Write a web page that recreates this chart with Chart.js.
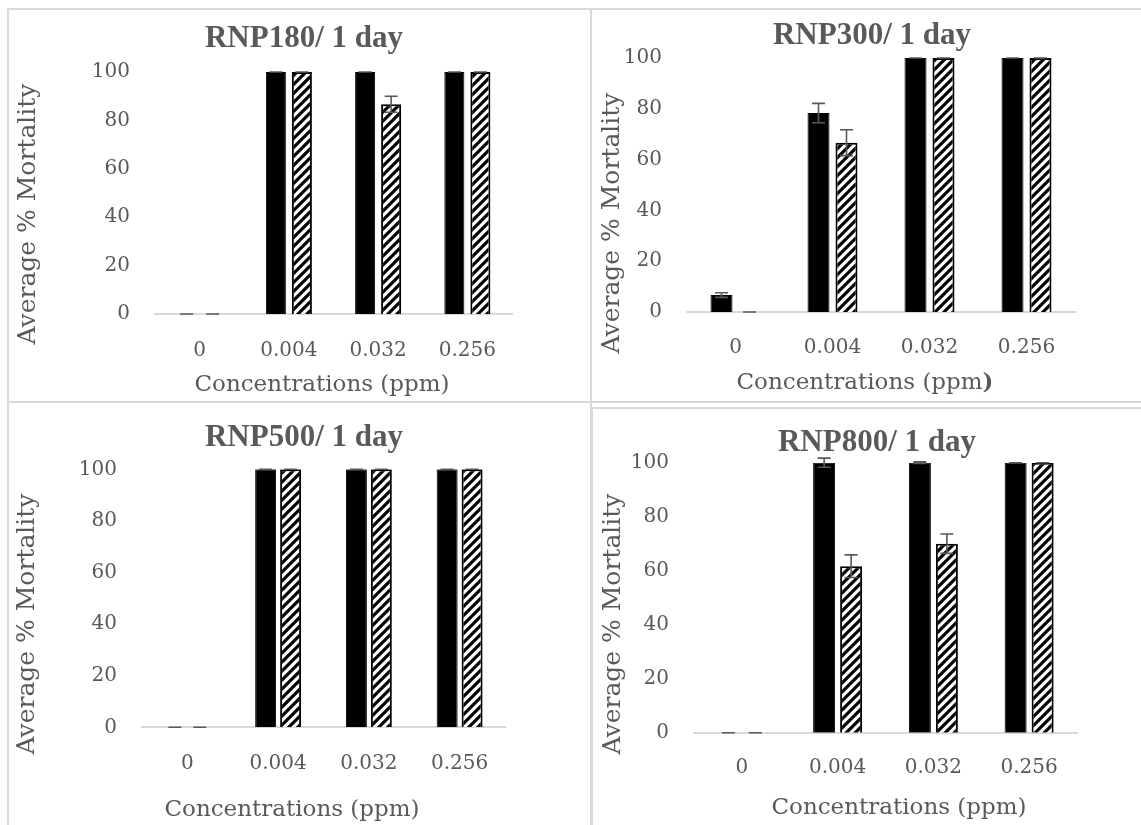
<!DOCTYPE html>
<html>
<head>
<meta charset="utf-8">
<script src="https://cdn.jsdelivr.net/npm/chart.js@4.4.0/dist/chart.umd.min.js"></script>
<style>
  html, body { margin: 0; padding: 0; background: #fff; }
  body { position: relative; width: 1141px; height: 825px; overflow: hidden; }
  canvas { position: absolute; }
  .frame { position: absolute; border: 2px solid #d9d9d9; box-sizing: border-box; pointer-events: none; }
</style>
</head>
<body>
<canvas id="c180" width="590" height="404" style="left:0;top:0"></canvas>
<canvas id="c300" width="551" height="404" style="left:590px;top:0"></canvas>
<canvas id="c500" width="590" height="421" style="left:0;top:404px"></canvas>
<canvas id="c800" width="551" height="421" style="left:590px;top:404px"></canvas>
<div class="frame" style="left:7px;top:8px;width:585px;height:395px"></div>
<div class="frame" style="left:590px;top:8px;width:600px;height:395px"></div>
<div class="frame" style="left:7px;top:401px;width:585px;height:500px"></div>
<div class="frame" style="left:591px;top:407px;width:600px;height:500px"></div>
<script>
// Concentration categories and y-axis ticks shared by all four panels
const categories = ['0', '0.004', '0.032', '0.256'];
const yTickValues = [0, 20, 40, 60, 80, 100];

// RNP180, 1 day
const rnp180Solid = [0, 100, 100, 100];
const rnp180SolidErr = [0, 0, 0, 0];
const rnp180Hatched = [0, 100, 86.67, 100];
const rnp180HatchedErr = [0, 0, 3.33, 0];

// RNP300, 1 day
const rnp300Solid = [6.67, 78.33, 100, 100];
const rnp300SolidErr = [0.9, 3.8, 0, 0];
const rnp300Hatched = [0, 66.67, 100, 100];
const rnp300HatchedErr = [0, 5.1, 0, 0];

// RNP500, 1 day
const rnp500Solid = [0, 100, 100, 100];
const rnp500SolidErr = [0, 0, 0, 0];
const rnp500Hatched = [0, 100, 100, 100];
const rnp500HatchedErr = [0, 0, 0, 0];

// RNP800, 1 day
const rnp800Solid = [0, 100, 100, 100];
const rnp800SolidErr = [0, 1.7, 0.3, 0];
const rnp800Hatched = [0, 61.67, 70, 100];
const rnp800HatchedErr = [0, 4.2, 3.6, 0];

const yTitle = 'Average % Mortality';
const TEXT = '#595959';
const FONT = '"DejaVu Serif", "Liberation Serif", serif';
const TITLE_FONT = 'bold 31px "Liberation Serif", "DejaVu Serif", serif';

// Diagonal "/" hatch tile
function makeHatch(ctx) {
  const s = 9;
  const tile = document.createElement('canvas');
  tile.width = tile.height = s;
  const g = tile.getContext('2d');
  g.fillStyle = '#fff';
  g.fillRect(0, 0, s, s);
  g.strokeStyle = '#000';
  g.lineWidth = 3.2;
  g.beginPath();
  for (let k = -1; k <= 1; k++) {
    g.moveTo(-2, s + k * s + 2);
    g.lineTo(s + 2, k * s - 2);
  }
  g.stroke();
  return ctx.createPattern(tile, 'repeat');
}

// Symmetric error bars with caps, drawn over the bars
const errorBars = {
  id: 'errorBars',
  afterDatasetsDraw(chart, args, opts) {
    const { ctx } = chart;
    const y = chart.scales.y;
    chart.data.datasets.forEach((ds, i) => {
      if (!ds.errors) return;
      chart.getDatasetMeta(i).data.forEach((bar, j) => {
        const v = ds.data[j], e = ds.errors[j];
        const x = bar.x, hi = y.getPixelForValue(v + e), lo = y.getPixelForValue(v - e);
        const h = opts.cap / 2;
        ctx.save();
        ctx.strokeStyle = opts.color;
        ctx.lineWidth = opts.width;
        ctx.beginPath();
        ctx.moveTo(x, hi); ctx.lineTo(x, lo);
        ctx.moveTo(x - h, hi); ctx.lineTo(x + h, hi);
        ctx.moveTo(x - h, lo); ctx.lineTo(x + h, lo);
        ctx.stroke();
        ctx.restore();
      });
    });
  }
};

// Chart title and axis titles placed at fixed spots in each panel
const panelText = {
  id: 'panelText',
  afterDraw(chart, args, o) {
    const ctx = chart.ctx;
    ctx.save();
    ctx.fillStyle = TEXT;
    ctx.textAlign = 'center';
    ctx.textBaseline = 'middle';
    ctx.font = TITLE_FONT;
    ctx.fillText(o.title, o.titleAt[0], o.titleAt[1]);

    ctx.save();
    ctx.translate(o.yTitleAt[0], o.yTitleAt[1]);
    ctx.rotate(-Math.PI / 2);
    ctx.font = '25px ' + FONT;
    ctx.fillText(yTitle, 0, 0);
    ctx.restore();

    const parts = o.xTitle;
    let total = 0;
    parts.forEach(p => { ctx.font = (p.bold ? 'bold ' : '') + '23px ' + FONT; p.w = ctx.measureText(p.text).width; total += p.w; });
    let x = o.xTitleAt[0] - total / 2;
    ctx.textAlign = 'left';
    parts.forEach(p => {
      ctx.font = (p.bold ? 'bold ' : '') + '23px ' + FONT;
      ctx.fillText(p.text, x, o.xTitleAt[1]);
      x += p.w;
    });
    ctx.restore();
  }
};

function makePanel(id, title, solid, solidErr, hatched, hatchedErr, lay) {
  const canvas = document.getElementById(id);
  const ctx = canvas.getContext('2d');
  const W = canvas.width, H = canvas.height;
  const a = lay.area;
  return new Chart(ctx, {
    type: 'bar',
    data: {
      labels: categories,
      datasets: [
        { label: 'Solid', data: solid, errors: solidErr, backgroundColor: '#000', borderColor: '#000', borderWidth: 1,
          categoryPercentage: lay.catPct, barPercentage: lay.barPct },
        { label: 'Hatched', data: hatched, errors: hatchedErr, backgroundColor: makeHatch(ctx), borderColor: '#000', borderWidth: 2,
          categoryPercentage: lay.catPct, barPercentage: lay.barPct }
      ]
    },
    options: {
      responsive: false,
      animation: false,
      events: [],
      layout: { autoPadding: false, padding: { left: 0, top: a.top, right: W - a.right, bottom: 0 } },
      plugins: {
        legend: { display: false },
        title: { display: false },
        tooltip: { enabled: false },
        errorBars: { color: '#595959', width: 1.6, cap: 13 },
        panelText: { title: title, titleAt: lay.titleAt, yTitleAt: lay.yTitleAt, xTitleAt: lay.xTitleAt, xTitle: lay.xTitle }
      },
      scales: {
        x: {
          grid: { display: false, drawTicks: false },
          border: { display: true, color: '#d9d9d9', width: 2 },
          ticks: { color: TEXT, font: { family: FONT, size: 20 }, padding: lay.xPad, maxRotation: 0 },
          afterFit: s => { s.height = H - a.bottom; }
        },
        y: {
          min: 0, max: 100,
          grid: { display: false, drawTicks: false },
          border: { display: false },
          ticks: { color: TEXT, font: { family: FONT, size: 20 }, padding: 25 },
          afterBuildTicks: s => { s.ticks = yTickValues.map(v => ({ value: v })); },
          afterFit: s => { s.width = a.left; }
        }
      }
    },
    plugins: [errorBars, panelText]
  });
}

const xTitlePlain = [{ text: 'Concentrations (ppm)' }];

makePanel('c180', 'RNP180/ 1 day', rnp180Solid, rnp180SolidErr, rnp180Hatched, rnp180HatchedErr, {
  area: { left: 155, right: 512, top: 72, bottom: 314 },
  catPct: 0.583, barPct: 0.77, xPad: 25,
  titleAt: [304, 39], yTitleAt: [28, 214], xTitleAt: [322, 385], xTitle: xTitlePlain
});
makePanel('c300', 'RNP300/ 1 day', rnp300Solid, rnp300SolidErr, rnp300Hatched, rnp300HatchedErr, {
  area: { left: 97, right: 485, top: 58, bottom: 312 },
  catPct: 0.577, barPct: 0.786, xPad: 24,
  titleAt: [282, 36], yTitleAt: [22, 223], xTitleAt: [275, 383],
  xTitle: [{ text: 'Concentrations (ppm' }, { text: ')', bold: true }]
});
makePanel('c500', 'RNP500/ 1 day', rnp500Solid, rnp500SolidErr, rnp500Hatched, rnp500HatchedErr, {
  area: { left: 142, right: 505, top: 65.3, bottom: 323.3 },
  catPct: 0.55, barPct: 0.84, xPad: 24,
  titleAt: [304, 34], yTitleAt: [27, 220], xTitleAt: [292, 406], xTitle: xTitlePlain
});
makePanel('c800', 'RNP800/ 1 day', rnp800Solid, rnp800SolidErr, rnp800Hatched, rnp800HatchedErr, {
  area: { left: 104, right: 487, top: 58.7, bottom: 328.7 },
  catPct: 0.564, barPct: 0.815, xPad: 23,
  titleAt: [287, 39], yTitleAt: [23, 220], xTitleAt: [309, 404], xTitle: xTitlePlain
});
</script>
</body>
</html>
